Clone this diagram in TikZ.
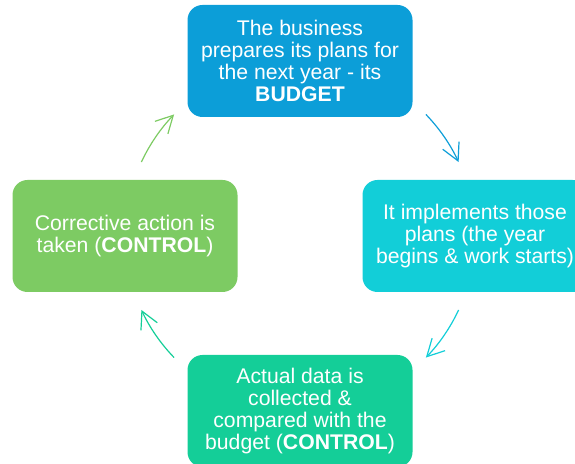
\documentclass[tikz,border=0pt]{standalone}
\usepackage{fontspec}
\setmainfont{Liberation Sans}
\usetikzlibrary{arrows.meta}
\usepackage{xcolor}
\definecolor{oceanblue}{RGB}{12,158,216}
\definecolor{lagoon}{RGB}{18,206,216}
\definecolor{jade}{RGB}{20,206,152}
\definecolor{leafgreen}{RGB}{125,203,99}
\tikzset{stagenode/.style={rectangle, rounded corners=15pt, minimum width=225pt, minimum height=112pt, inner sep=0pt, text=white, align=center, font=\fontsize{21.2}{22}\selectfont},cyclearrow/.style={line width=1.2pt, -{Straight Barb[length=17pt, width=18pt]}}}

\begin{document}
\begin{tikzpicture}[
        oceanbluenode/.style={stagenode, fill=oceanblue},
        lagoonnode/.style={stagenode, fill=lagoon},
        jadenode/.style={stagenode, fill=jade},
        leafgreennode/.style={stagenode, fill=leafgreen}
    ]
        % Frame
        \useasboundingbox (0pt, 0pt) rectangle (575pt, 463pt);
        \clip (0pt, 0pt) rectangle (575pt, 463pt);
        \coordinate (hub) at (300pt, 227pt);
        % Stages
        \node[oceanbluenode] (budget) at (300pt, 402pt) {The business\\prepares its plans for\\the next year - its\\\textbf{BUDGET}};
        \node[lagoonnode] (implement) at (475pt, 227pt) {It implements those\\plans (the year\\begins \& work starts)};
        \node[jadenode] (compare) at (300pt, 52pt) {Actual data is\\collected \&\\compared with the\\budget (\textbf{CONTROL})};
        \node[leafgreennode] (correct) at (125pt, 227pt) {Corrective action is\\taken (\textbf{CONTROL})};
        % Arrows
        \draw[cyclearrow, oceanblue] (hub) ++(44:175pt) arc[start angle=44, end angle=25, radius=175pt];
        \draw[cyclearrow, lagoon] (hub) ++(-25:175pt) arc[start angle=-25, end angle=-44, radius=175pt];
        \draw[cyclearrow, jade] (hub) ++(224:175pt) arc[start angle=224, end angle=205, radius=175pt];
        \draw[cyclearrow, leafgreen] (hub) ++(155:175pt) arc[start angle=155, end angle=136, radius=175pt];
    \end{tikzpicture}
\end{document}
